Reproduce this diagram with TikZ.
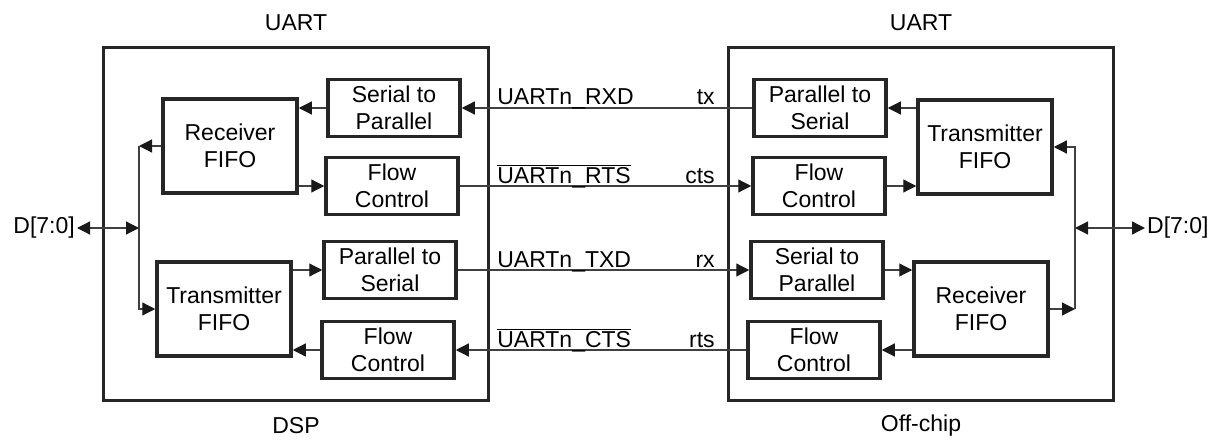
\documentclass[tikz,border=0pt]{standalone}
\usepackage{fontspec}
\setmainfont{Liberation Sans}
\usetikzlibrary{arrows.meta,positioning}

\begin{document}
\begin{tikzpicture}[x=1pt,y=-1pt,
  font=\fontsize{23}{27}\selectfont,
  chip/.style={draw=black!85, line width=3.2pt, minimum width=385pt, minimum height=353pt},
  blk/.style={draw=black!85, line width=3.5pt, align=center, inner sep=0pt,
    minimum width=132pt, minimum height=57pt},
  fifo/.style={blk, minimum width=134pt, minimum height=94pt},
  sig/.style={draw=black!75, line width=1.2pt},
  tip/.style={sig, -{Triangle[length=13pt,width=13pt,color=black!90]}},
  dtip/.style={sig, {Triangle[length=13pt,width=13pt,color=black!90]}-{Triangle[length=13pt,width=13pt,color=black!90]}},
  lbl/.style={inner sep=0pt}]
  \useasboundingbox (0,0) rectangle (1219,441);

  \node[chip] (dsp) at (296,224) {};
  \node[chip] (off) at (921,224) {};
  \node[lbl, above=15pt of dsp] (dspuart) {UART};
  \node[lbl, above=15pt of off] (offuart) {UART};
  \node[lbl, below=15pt of dsp] (dspname) {DSP};
  \node[lbl, below=13pt of off] (offname) {Off-chip};

  \node[fifo] (rxfL) at (230,146) {Receiver\\FIFO};
  \node[blk] (s2pL) at (394,108) {Serial to\\Parallel};
  \node[blk] (fcTL) at (392,186) {Flow\\Control};
  \node[blk] (p2sL) at (390,270) {Parallel to\\Serial};
  \node[fifo] (txfL) at (224,309) {Transmitter\\FIFO};
  \node[blk] (fcBL) at (388,350) {Flow\\Control};

  \node[blk] (p2sR) at (820,108) {Parallel to\\Serial};
  \node[fifo] (txfR) at (985,147) {Transmitter\\FIFO};
  \node[blk] (fcTR) at (819,186) {Flow\\Control};
  \node[blk] (s2pR) at (817,270) {Serial to\\Parallel};
  \node[fifo] (rxfR) at (981,309) {Receiver\\FIFO};
  \node[blk] (fcBR) at (814,350) {Flow\\Control};

  \draw[tip] (s2pL.west) -- (s2pL.west -| rxfL.east);
  \draw[tip] (fcTL.west -| rxfL.east) -- (fcTL.west);
  \draw[tip] (txfL.east |- p2sL.west) -- (p2sL.west);
  \draw[tip] (fcBL.west) -- (fcBL.west -| txfL.east);

  \draw[tip] (txfR.west |- p2sR.east) -- (p2sR.east);
  \draw[tip] (fcTR.east) -- (fcTR.east -| txfR.west);
  \draw[tip] (s2pR.east) -- (s2pR.east -| rxfR.west);
  \draw[tip] (rxfR.west |- fcBR.east) -- (fcBR.east);

  \draw[tip] (p2sR.west) -- (s2pL.east);
  \draw[tip] (fcTL.east) -- (fcTR.west);
  \draw[tip] (p2sL.east) -- (s2pR.west);
  \draw[tip] (fcBR.west) -- (fcBL.east);

  \path (s2pL.east -| dsp.east) ++(7,-3) node[lbl, anchor=base west] (rxd) {UARTn\_RXD};
  \path (fcTL.east -| dsp.east) ++(7,-3) node[lbl, anchor=base west] (rts) {$\overline{\mbox{UARTn\_RTS}}$};
  \path (p2sL.east -| dsp.east) ++(7,-3) node[lbl, anchor=base west] (txd) {UARTn\_TXD};
  \path (fcBL.east -| dsp.east) ++(7,-3) node[lbl, anchor=base west] (cts) {$\overline{\mbox{UARTn\_CTS}}$};
  \path (p2sR.west -| off.west) ++(-12,-3) node[lbl, anchor=base east] (tx) {tx};
  \path (fcTR.west -| off.west) ++(-12,-3) node[lbl, anchor=base east] (ctsin) {cts};
  \path (s2pR.west -| off.west) ++(-12,-3) node[lbl, anchor=base east] (rx) {rx};
  \path (fcBR.west -| off.west) ++(-12,-3) node[lbl, anchor=base east] (rtsout) {rts};

  \coordinate (busL) at (139,228);
  \coordinate (busR) at (1075,228);
  \node[lbl, anchor=east] (dL) at (75,228) {D[7:0]};
  \node[lbl, anchor=west] (dR) at (1147,228) {D[7:0]};

  \draw[tip] (rxfL.west) -- (rxfL.west -| busL);
  \draw[tip] (rxfL.west -| busL) |- (txfL.west);
  \draw[dtip] (dL.east) ++(2,0) -- (busL);
  \draw[tip] (rxfR.east) -- (rxfR.east -| busR);
  \draw[tip] (rxfR.east -| busR) |- (txfR.east);
  \draw[dtip] (busR) -- ([xshift=-2pt]dR.west);
\end{tikzpicture}
\end{document}
